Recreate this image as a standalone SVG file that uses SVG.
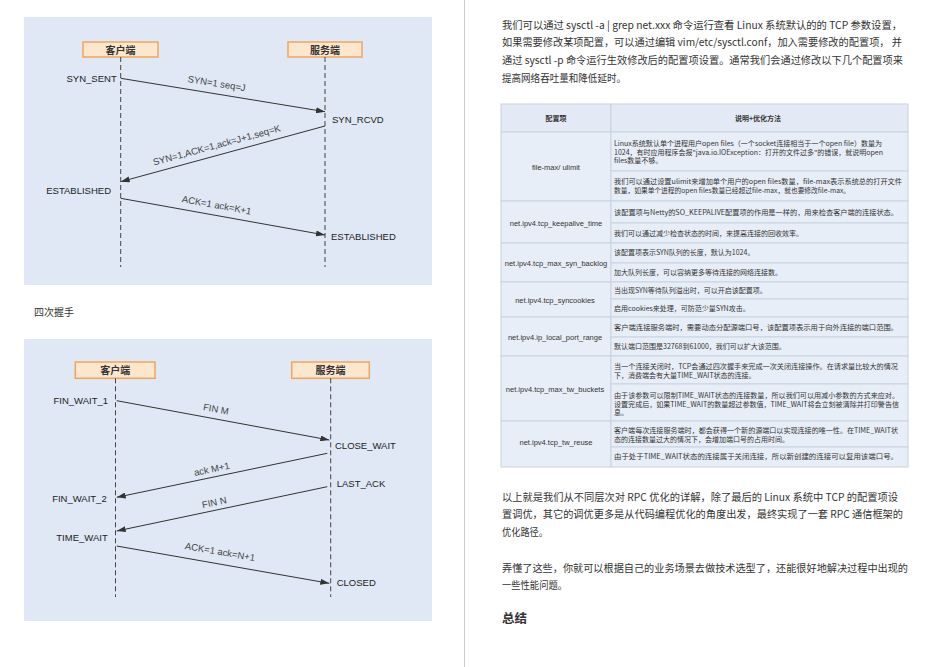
<svg xmlns="http://www.w3.org/2000/svg" width="932" height="667" viewBox="0 0 932 667">
<style>
.bg{fill:#dfe8f4}
.box{fill:#fce6cc;stroke:#f0a55e;stroke-width:1.5}
.hd{font-family:"Noto Sans CJK SC","Noto Sans",sans-serif;font-size:10px;font-weight:bold;fill:#333;text-anchor:middle}
.life{stroke:#444;stroke-width:1;stroke-dasharray:5,3;fill:none}
.msg{stroke:#333;stroke-width:1;fill:none;marker-end:url(#ah)}
.st{font-family:"Liberation Sans",Arial,sans-serif;font-size:9.5px;fill:#222}
.lb{font-family:"Liberation Sans",Arial,sans-serif;font-size:9.5px;fill:#444;text-anchor:middle}
.p{font-family:"Noto Sans CJK SC","Noto Sans",sans-serif;font-size:10.5px;fill:#333}
.cell{fill:#e8eef7;stroke:#c8d2e0;stroke-width:1}
.th{font-family:"Noto Sans CJK SC",sans-serif;font-size:7px;font-weight:bold;fill:#333;text-anchor:middle}
.tl{font-family:"Liberation Sans","Noto Sans CJK SC",sans-serif;font-size:7.5px;fill:#333;text-anchor:middle}
.td{font-family:"Noto Sans CJK SC",sans-serif;font-size:7px;fill:#333}
</style>
<defs>
<marker id="ah" markerWidth="9" markerHeight="6" refX="9" refY="3" orient="auto" markerUnits="userSpaceOnUse">
<path d="M0,0 L9,3 L0,6 z" fill="#333"/>
</marker>
</defs>
<rect width="932" height="667" fill="#ffffff"/>
<line x1="464.5" y1="0" x2="464.5" y2="667" stroke="#cccccc" stroke-width="1"/>

<!-- Diagram 1: three-way handshake -->
<g id="diagram1">
<rect class="bg" x="24" y="17" width="408" height="268"/>
<g id="client1"><rect class="box" x="83" y="42" width="75" height="15"/><text class="hd" x="120.5" y="53.5">客户端</text></g>
<g id="server1"><rect class="box" x="288" y="42" width="74" height="15"/><text class="hd" x="325" y="53.5">服务端</text></g>
<g id="lifelines1">
<line class="life" x1="120.7" y1="57" x2="120.7" y2="267"/>
<line class="life" x1="325" y1="57" x2="325" y2="267"/>
</g>
<g id="states1">
<text class="st" x="116.7" y="82" text-anchor="end">SYN_SENT</text>
<text class="st" x="332" y="122.5">SYN_RCVD</text>
<text class="st" x="111" y="194" text-anchor="end">ESTABLISHED</text>
<text class="st" x="331" y="240">ESTABLISHED</text>
</g>
<g id="connectors1">
<line class="msg" x1="120.7" y1="78.3" x2="325" y2="111.7"/>
<line class="msg" x1="325" y1="126" x2="120.7" y2="181.7"/>
<line class="msg" x1="120.7" y1="198.3" x2="325" y2="235"/>
<text class="lb" x="216.7" y="86.7" transform="rotate(9.3 216.7 83.3)">SYN=1 seq=J</text>
<text class="lb" x="216.7" y="148.4" transform="rotate(-15.2 216.7 145)">SYN=1,ACK=1,ack=J+1,seq=K</text>
<text class="lb" x="216.7" y="208.4" transform="rotate(10.2 216.7 205)">ACK=1 ack=K+1</text>
</g>
</g>

<text x="34" y="316" style="font-family:'Noto Sans CJK SC',sans-serif;font-size:10px;fill:#333">四次握手</text>

<!-- Diagram 2: four-way handshake -->
<g id="diagram2">
<rect class="bg" x="24" y="339" width="408" height="282"/>
<g id="client2"><rect class="box" x="75.3" y="362" width="79.7" height="16.3"/><text class="hd" x="115.2" y="374">客户端</text></g>
<g id="server2"><rect class="box" x="291.7" y="362" width="77.6" height="16.3"/><text class="hd" x="330.5" y="374">服务端</text></g>
<g id="lifelines2">
<line class="life" x1="115.5" y1="378.3" x2="115.5" y2="597"/>
<line class="life" x1="330.7" y1="378.3" x2="330.7" y2="597"/>
</g>
<g id="states2">
<text class="st" x="108" y="404" text-anchor="end">FIN_WAIT_1</text>
<text class="st" x="335" y="449">CLOSE_WAIT</text>
<text class="st" x="336.7" y="486.7">LAST_ACK</text>
<text class="st" x="106.7" y="502.3" text-anchor="end">FIN_WAIT_2</text>
<text class="st" x="107.7" y="541" text-anchor="end">TIME_WAIT</text>
<text class="st" x="336.7" y="585.6">CLOSED</text>
</g>
<g id="connectors2">
<line class="msg" x1="116.7" y1="400.7" x2="329.3" y2="440"/>
<line class="msg" x1="327.3" y1="453.3" x2="116.7" y2="497.3"/>
<line class="msg" x1="327.3" y1="486.7" x2="116.7" y2="531"/>
<line class="msg" x1="116.7" y1="546" x2="329.3" y2="583.3"/>
<text class="lb" x="216" y="412.4" transform="rotate(10.5 216 409)">FIN M</text>
<text class="lb" x="211.7" y="472.4" transform="rotate(-11.8 211.7 469)">ack M+1</text>
<text class="lb" x="214.3" y="505.7" transform="rotate(-11.9 214.3 502.3)">FIN N</text>
<text class="lb" x="220" y="555.1" transform="rotate(10 220 551.7)">ACK=1 ack=N+1</text>
</g>
</g>

<!-- Right column text -->
<g id="intro">
<text class="p" x="502" y="29" textLength="400" lengthAdjust="spacingAndGlyphs">我们可以通过 sysctl -a | grep net.xxx 命令运行查看 Linux 系统默认的的 TCP 参数设置，</text>
<text class="p" x="502" y="46.3" textLength="400" lengthAdjust="spacingAndGlyphs">如果需要修改某项配置，可以通过编辑 vim/etc/sysctl.conf，加入需要修改的配置项， 并</text>
<text class="p" x="502" y="64" textLength="401" lengthAdjust="spacingAndGlyphs">通过 sysctl -p 命令运行生效修改后的配置项设置。通常我们会通过修改以下几个配置项来</text>
<text class="p" x="502" y="82.3" textLength="124" lengthAdjust="spacingAndGlyphs">提高网络吞吐量和降低延时。</text>
</g>

<g id="table">
<rect class="cell" x="501" y="104" width="110" height="28" style="fill:#e3eaf5"/>
<rect class="cell" x="611" y="104" width="297" height="28" style="fill:#e3eaf5"/>
<text class="th" x="556" y="120.5">配置项</text>
<text class="th" x="758" y="120.5">说明+优化方法</text>

<rect class="cell" x="501" y="132" width="110" height="69"/>
<rect class="cell" x="611" y="132" width="297" height="39"/>
<rect class="cell" x="611" y="171" width="297" height="30"/>
<text class="tl" x="556" y="169.5">file-max/ ulimit</text>
<text class="td" x="614" y="145.8" textLength="268" lengthAdjust="spacingAndGlyphs">Linux系统默认单个进程用户open files（一个socket连接相当于一个open file）数量为</text>
<text class="td" x="614" y="154.8" textLength="269" lengthAdjust="spacingAndGlyphs">1024，有时应用程序会报"java.io.IOException：打开的文件过多"的错误，就说明open</text>
<text class="td" x="614" y="163.2">files数量不够。</text>
<text class="td" x="614" y="183.5" textLength="288" lengthAdjust="spacingAndGlyphs">我们可以通过设置ulimit来增加单个用户的open files数量，file-max表示系统总的打开文件</text>
<text class="td" x="614" y="192.5" textLength="236" lengthAdjust="spacingAndGlyphs">数量，如果单个进程的open files数量已经超过file-max，就也要修改file-max。</text>

<rect class="cell" x="501" y="201" width="110" height="42"/>
<rect class="cell" x="611" y="201" width="297" height="22"/>
<rect class="cell" x="611" y="223" width="297" height="20"/>
<text class="tl" x="556" y="225.8">net.ipv4.tcp_keepalive_time</text>
<text class="td" x="614" y="214.8" textLength="284" lengthAdjust="spacingAndGlyphs">该配置项与Netty的SO_KEEPALIVE配置项的作用是一样的，用来检查客户端的连接状态。</text>
<text class="td" x="614" y="235.8">我们可以通过减少检查状态的时间，来提高连接的回收效率。</text>

<rect class="cell" x="501" y="243" width="110" height="39"/>
<rect class="cell" x="611" y="243" width="297" height="20"/>
<rect class="cell" x="611" y="263" width="297" height="19"/>
<text class="tl" x="556" y="265.8">net.ipv4.tcp_max_syn_backlog</text>
<text class="td" x="614" y="254.8">该配置项表示SYN队列的长度，默认为1024。</text>
<text class="td" x="614" y="274.8">加大队列长度，可以容纳更多等待连接的网络连接数。</text>

<rect class="cell" x="501" y="282" width="110" height="35"/>
<rect class="cell" x="611" y="282" width="297" height="17"/>
<rect class="cell" x="611" y="299" width="297" height="18"/>
<text class="tl" x="555" y="302.5">net.ipv4.tcp_syncookies</text>
<text class="td" x="614" y="292.5">当出现SYN等待队列溢出时，可以开启该配置项。</text>
<text class="td" x="614" y="310.8">启用cookies来处理，可防范少量SYN攻击。</text>

<rect class="cell" x="501" y="317" width="110" height="39"/>
<rect class="cell" x="611" y="317" width="297" height="20"/>
<rect class="cell" x="611" y="337" width="297" height="19"/>
<text class="tl" x="555" y="339.8">net.ipv4.ip_local_port_range</text>
<text class="td" x="614" y="329.8" textLength="284" lengthAdjust="spacingAndGlyphs">客户端连接服务端时，需要动态分配源端口号，该配置项表示用于向外连接的端口范围。</text>
<text class="td" x="614" y="349.2">默认端口范围是32768到61000，我们可以扩大该范围。</text>

<rect class="cell" x="501" y="356" width="110" height="65"/>
<rect class="cell" x="611" y="356" width="297" height="28"/>
<rect class="cell" x="611" y="384" width="297" height="37"/>
<text class="tl" x="555" y="391.5">net.ipv4.tcp_max_tw_buckets</text>
<text class="td" x="614" y="368.5" textLength="284" lengthAdjust="spacingAndGlyphs">当一个连接关闭时，TCP会通过四次握手来完成一次关闭连接操作。在请求量比较大的情况</text>
<text class="td" x="614" y="377.5">下，消费端会有大量TIME_WAIT状态的连接。</text>
<text class="td" x="614" y="397.5" textLength="285" lengthAdjust="spacingAndGlyphs">由于该参数可以限制TIME_WAIT状态的连接数量，所以我们可以用减小参数的方式来应对。</text>
<text class="td" x="614" y="406.5" textLength="285" lengthAdjust="spacingAndGlyphs">设置完成后，如果TIME_WAIT的数量超过参数值，TIME_WAIT将会立刻被清除并打印警告信</text>
<text class="td" x="614" y="414.8">息。</text>

<rect class="cell" x="501" y="421" width="110" height="46"/>
<rect class="cell" x="611" y="421" width="297" height="26"/>
<rect class="cell" x="611" y="447" width="297" height="20"/>
<text class="tl" x="556" y="444.8">net.ipv4.tcp_tw_reuse</text>
<text class="td" x="614" y="432.5" textLength="284" lengthAdjust="spacingAndGlyphs">客户端每次连接服务端时，都会获得一个新的源端口以实现连接的唯一性。在TIME_WAIT状</text>
<text class="td" x="614" y="441.5">态的连接数量过大的情况下，会增加端口号的占用时间。</text>
<text class="td" x="614" y="459.2" textLength="284" lengthAdjust="spacingAndGlyphs">由于处于TIME_WAIT状态的连接属于关闭连接，所以新创建的连接可以复用该端口号。</text>
</g>

<g id="outro">
<text class="p" x="502" y="500.7" textLength="396" lengthAdjust="spacingAndGlyphs">以上就是我们从不同层次对 RPC 优化的详解，除了最后的 Linux 系统中 TCP 的配置项设</text>
<text class="p" x="502" y="518.3" textLength="401" lengthAdjust="spacingAndGlyphs">置调优，其它的调优更多是从代码编程优化的角度出发，最终实现了一套 RPC 通信框架的</text>
<text class="p" x="502" y="536.3" textLength="46" lengthAdjust="spacingAndGlyphs">优化路径。</text>
<text class="p" x="502" y="572.3" textLength="406" lengthAdjust="spacingAndGlyphs">弄懂了这些，你就可以根据自己的业务场景去做技术选型了，还能很好地解决过程中出现的</text>
<text class="p" x="502" y="589" textLength="65" lengthAdjust="spacingAndGlyphs">一些性能问题。</text>
<text x="502" y="623" style="font-family:'Noto Sans CJK SC',sans-serif;font-size:12.5px;font-weight:bold;fill:#333">总结</text>
</g>
</svg>
